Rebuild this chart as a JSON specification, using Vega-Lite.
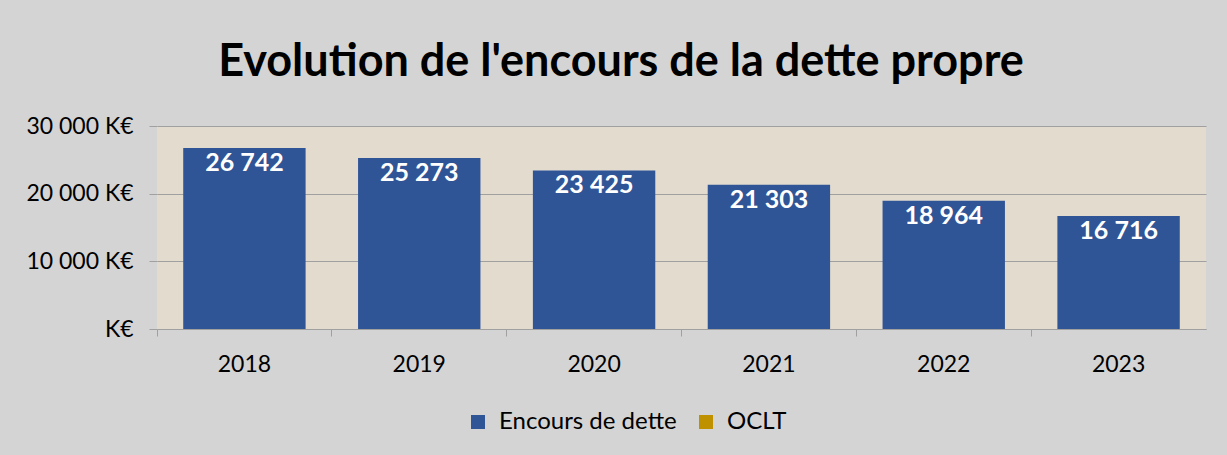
{
  "$schema": "https://vega.github.io/schema/vega-lite/v6.json",
  "autosize": "none",
  "width": 1049,
  "height": 203,
  "padding": {"left": 157, "top": 126, "right": 21, "bottom": 126},
  "background": "#d4d4d4",
  "title": {
    "text": "Evolution de l'encours de la dette propre",
    "font": "Lato",
    "fontSize": 45,
    "fontWeight": "bold",
    "color": "#000000",
    "anchor": "middle",
    "frame": "bounds",
    "offset": 30,
    "dx": 5
  },
  "config": {
    "view": {"stroke": null, "fill": "#e3dbce"},
    "font": "Lato"
  },
  "data": {
    "values": [
      {"annee": "2018", "serie": "Encours de dette", "valeur": 26742, "texte": "26 742"},
      {"annee": "2019", "serie": "Encours de dette", "valeur": 25273, "texte": "25 273"},
      {"annee": "2020", "serie": "Encours de dette", "valeur": 23425, "texte": "23 425"},
      {"annee": "2021", "serie": "Encours de dette", "valeur": 21303, "texte": "21 303"},
      {"annee": "2022", "serie": "Encours de dette", "valeur": 18964, "texte": "18 964"},
      {"annee": "2023", "serie": "Encours de dette", "valeur": 16716, "texte": "16 716"}
    ]
  },
  "encoding": {
    "x": {
      "field": "annee",
      "type": "nominal",
      "scale": {"paddingInner": 0, "paddingOuter": 0},
      "axis": {
        "title": null,
        "labelAngle": 0,
        "labelFont": "Lato",
        "labelFontSize": 23,
        "labelColor": "#000000",
        "labelPadding": 17,
        "bandPosition": 0,
        "tickSize": 7,
        "tickColor": "#a0a0a0",
        "domainColor": "#a0a0a0"
      }
    },
    "y": {
      "field": "valeur",
      "type": "quantitative",
      "scale": {"domain": [0, 30000]},
      "axis": {
        "title": null,
        "values": [0, 10000, 20000, 30000],
        "labelExpr": "datum.value == 0 ? 'K€' : replace(format(datum.value, ',d'), ',', ' ') + ' K€'",
        "labelFont": "Lato",
        "labelFontSize": 23,
        "labelColor": "#000000",
        "labelPadding": 16,
        "tickSize": 8,
        "tickColor": "#a0a0a0",
        "gridColor": "#a0a0a0",
        "domain": false
      }
    }
  },
  "layer": [
    {
      "mark": {"type": "bar", "width": {"band": 0.7}},
      "encoding": {
        "color": {
          "field": "serie",
          "type": "nominal",
          "scale": {"domain": ["Encours de dette", "OCLT"], "range": ["#2F5597", "#BF9000"]},
          "legend": {
            "title": null,
            "orient": "none",
            "direction": "horizontal",
            "legendX": 309,
            "legendY": 284,
            "padding": 0,
            "symbolType": "square",
            "symbolSize": 196,
            "symbolStrokeWidth": 0,
            "symbolOpacity": 1,
            "labelFont": "Lato",
            "labelFontSize": 24,
            "labelColor": "#000000",
            "labelOffset": 9,
            "labelLimit": 400,
            "columnPadding": 17
          }
        }
      }
    },
    {
      "mark": {"type": "text", "baseline": "top", "dy": 3, "font": "Lato", "fontSize": 25, "fontWeight": "bold", "color": "#ffffff"},
      "encoding": {
        "text": {"field": "texte"}
      }
    }
  ]
}
